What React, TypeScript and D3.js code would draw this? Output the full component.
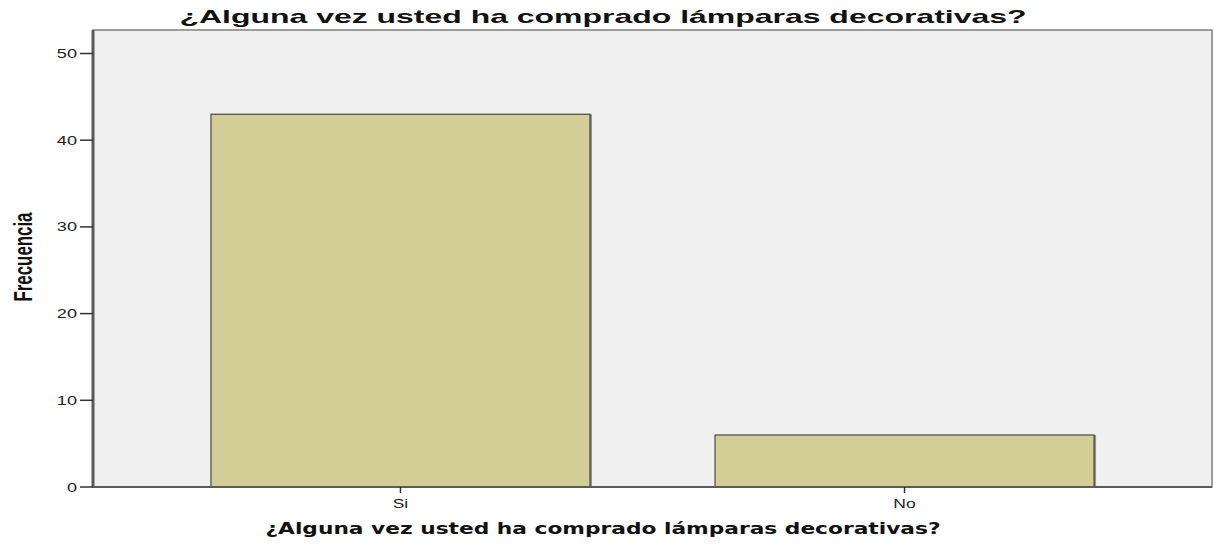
import React from "react";
import * as d3 from "d3";

const categories = ["Si", "No"];
const frequencies = [43, 6];
const yTicks = [0, 10, 20, 30, 40, 50];
const titleText = "¿Alguna vez usted ha comprado lámparas decorativas?";
const xTitle = "¿Alguna vez usted ha comprado lámparas decorativas?";
const yTitle = "Frecuencia";

export default function App() {
  const W = 1214, H = 546;
  const left = 93, right = 1212, top = 30, bottom = 487;
  const y = d3.scaleLinear().domain([0, 50]).range([bottom, 53.5]);
  const x = d3.scaleBand<string>().domain(categories).range([left, right]).paddingInner(0.248).paddingOuter(0.234);
  const bw = x.bandwidth();
  return (
    <svg width={W} height={H} style={{ position: "absolute", left: 0, top: 0, background: "#fff" }}>
      <rect x={left} y={top} width={right - left} height={bottom - top} fill="#f0f0f0" stroke="#808080" strokeWidth={1.5} />
      {categories.map((c, i) => {
        const x0 = x(c)!;
        const yv = y(frequencies[i]);
        return (
          <g key={c}>
            <rect x={x0 + 2} y={yv} width={bw} height={bottom - yv} fill="#6e6e6e" opacity={0.7} />
            <rect x={x0} y={yv} width={bw} height={bottom - yv} fill="#d3cd96" stroke="#2e2e2e" strokeWidth={1} />
          </g>
        );
      })}
      <line x1={left} y1={top} x2={left} y2={bottom} stroke="#5a5a5a" strokeWidth={3} />
      <line x1={left} y1={bottom} x2={right} y2={bottom} stroke="#5a5a5a" strokeWidth={2} />
      {yTicks.map((t) => (
        <g key={t}>
          <line x1={80} x2={left} y1={y(t)} y2={y(t)} stroke="#333" strokeWidth={1.5} />
          <text transform={`translate(77, ${y(t) + 4.5}) scale(1.45, 1)`} textAnchor="end" fontFamily="Liberation Sans, Arial, sans-serif" fontSize={12.5} fill="#222">{t}</text>
        </g>
      ))}
      {categories.map((c) => {
        const cx = x(c)! + bw / 2;
        return (
          <g key={c}>
            <line x1={cx} x2={cx} y1={bottom} y2={bottom + 6} stroke="#333" strokeWidth={1.5} />
            <text transform={`translate(${cx}, 508) scale(1.4, 1)`} textAnchor="middle" fontFamily="Liberation Sans, Arial, sans-serif" fontSize={12.5} fill="#222">{c}</text>
          </g>
        );
      })}
      <text x={603} y={23} textAnchor="middle" fontFamily="Liberation Sans, Arial, sans-serif" fontWeight="bold" fontSize={19} textLength={847} lengthAdjust="spacingAndGlyphs" fill="#111">{titleText}</text>
      <text x={603} y={534} textAnchor="middle" fontFamily="DejaVu Sans, Verdana, sans-serif" fontWeight="bold" fontSize={16} textLength={675} lengthAdjust="spacingAndGlyphs" fill="#111">{xTitle}</text>
      <text transform={`translate(32, 257) rotate(-90)`} textAnchor="middle" fontFamily="Liberation Sans Narrow, Arial Narrow, sans-serif" fontWeight="bold" fontSize={26} textLength={89} lengthAdjust="spacingAndGlyphs" fill="#111">{yTitle}</text>
    </svg>
  );
}
